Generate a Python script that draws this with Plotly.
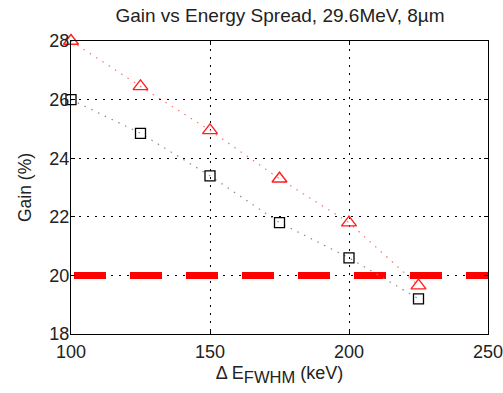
import plotly.graph_objects as go

energy_spread = [100, 125, 150, 175, 200, 225]
gain_triangle = [28.0, 26.45, 24.95, 23.3, 21.8, 19.65]
gain_square = [26.0, 24.85, 23.4, 21.8, 20.6, 19.2]
threshold_x = [100, 250]
threshold_y = [20, 20]
x_ticks = [100, 150, 200, 250]
y_ticks = [18, 20, 22, 24, 26, 28]

FONT = "Liberation Sans, Arial, sans-serif"

fig = go.Figure()
fig.add_trace(go.Scatter(
    x=threshold_x, y=threshold_y, mode="lines",
    line=dict(color="#ff0000", width=7, dash="0px,3px,32px,21px"),
    hoverinfo="skip", showlegend=False))
fig.add_trace(go.Scatter(
    x=energy_spread, y=gain_square, mode="lines+markers",
    line=dict(color="#8a8a8a", width=1.2, dash="1.5px,6px"),
    marker=dict(symbol="square-open", size=10, color="black", line=dict(width=1.3, color="black")),
    showlegend=False, cliponaxis=False))
fig.add_trace(go.Scatter(
    x=energy_spread, y=gain_triangle, mode="lines+markers",
    line=dict(color="#ff7070", width=1.2, dash="1.5px,6px"),
    marker=dict(symbol="triangle-up-open", size=13, color="#ff2020", line=dict(width=1.4, color="#ff2020")),
    showlegend=False, cliponaxis=False))

axis_common = dict(
    showline=True, linecolor="black", linewidth=1.2, mirror="ticks",
    ticks="inside", ticklen=4, tickcolor="black",
    showgrid=True, gridcolor="black", gridwidth=1, griddash="2px,6px",
    zeroline=False, automargin=False, ticklabeloverflow="allow",
    tickfont=dict(family=FONT, size=18, color="#222"),
)

fig.update_layout(
    width=503, height=393,
    margin=dict(l=71, r=15, t=41, b=59),
    paper_bgcolor="white", plot_bgcolor="white",
    title=dict(text="Gain vs Energy Spread, 29.6MeV, 8µm",
               x=0.5567, xanchor="center", y=0.961, yanchor="middle",
               font=dict(family=FONT, size=19, color="#222")),
    xaxis=dict(range=[100, 250], tickvals=x_ticks, ticklabelstandoff=1,
               title=dict(text="Δ E<sub><span style='font-size:16.5px'>FWHM</span></sub> (keV)", standoff=5,
                          font=dict(family=FONT, size=18, color="#222")),
               **axis_common),
    yaxis=dict(range=[18, 28], tickvals=y_ticks, ticklabelstandoff=-3,
               title=dict(text="Gain (%)", standoff=13,
                          font=dict(family=FONT, size=17.5, color="#222")),
               **axis_common),
)

# remove the page's default 8px body margin so the figure fills the window
fig.write_html("out.html", config={"displayModeBar": False},
               post_script="document.body.style.margin='0';document.body.style.overflow='hidden';")
